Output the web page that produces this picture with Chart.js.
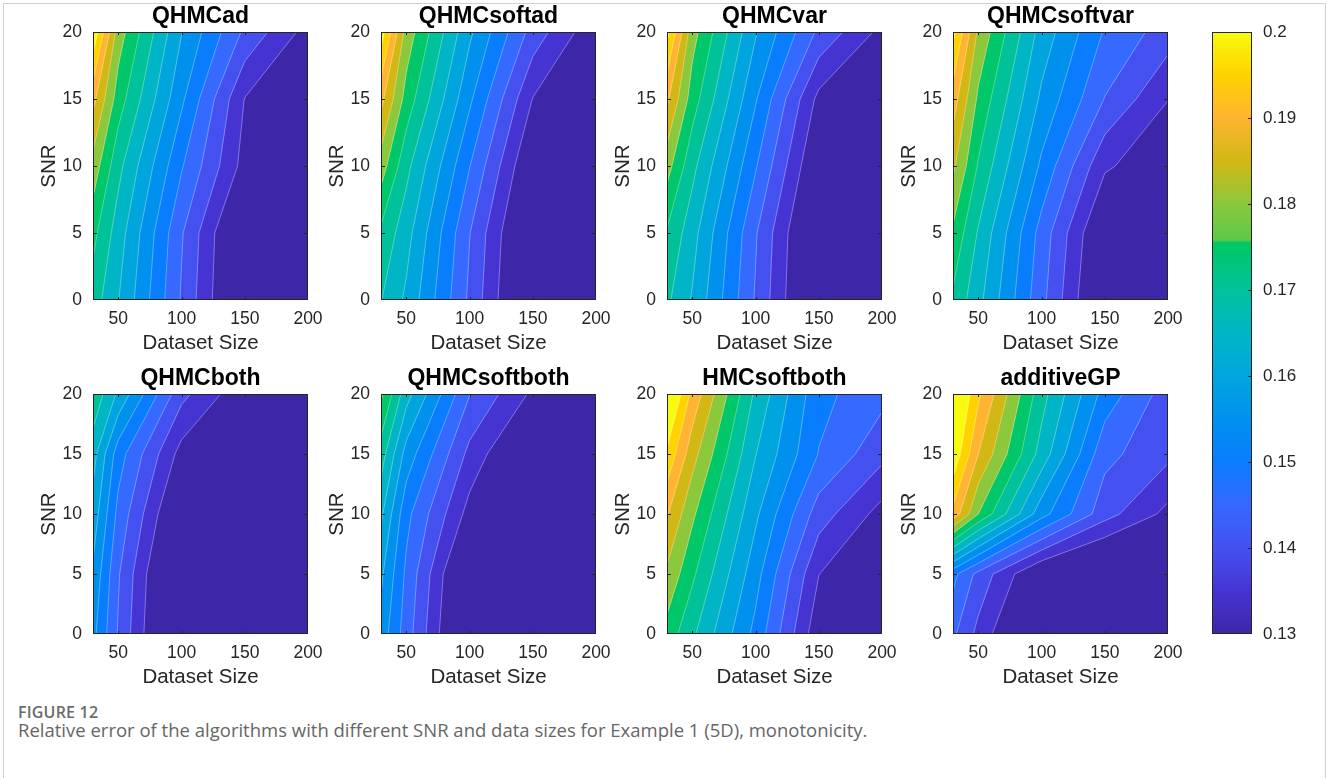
<!DOCTYPE html>
<html>
<head>
<meta charset="utf-8">
<script src="https://cdn.jsdelivr.net/npm/chart.js@4.4.0/dist/chart.umd.min.js"></script>
<style>
  body { margin:0; width:1329px; height:778px; overflow:hidden; position:relative; background:#fff; }
  .frame { position:absolute; left:3px; top:3px; width:1321px; height:800px; border:1px solid #cfcfcf; }
  canvas { position:absolute; }
  .figlab { position:absolute; left:18px; top:701px; font:600 16px 'Open Sans', sans-serif; color:#6b6b6b; letter-spacing:0.2px; }
  .caption { position:absolute; left:18px; top:717px; font:18.5px 'Open Sans', sans-serif; color:#666; white-space:nowrap; }
</style>
</head>
<body>
<div class="frame"></div>
<div id="wrap"></div>
<div class="figlab">FIGURE 12</div>
<div class="caption">Relative error of the algorithms with different SNR and data sizes for Example 1 (5D), monotonicity.</div>
<script>
// grid of the contour data
const sizes = [30, 50, 100, 150, 200];
const snrs = [0, 5, 10, 15, 20];
const levels = [0.135, 0.14, 0.145, 0.15, 0.155, 0.16, 0.165, 0.17, 0.175, 0.18, 0.185, 0.19, 0.195, 0.2];
const xTicks = [50, 100, 150, 200];
const yTicks = [0, 5, 10, 15, 20];
const cbTicks = [0.13, 0.14, 0.15, 0.16, 0.17, 0.18, 0.19, 0.2];
const titles = ['QHMCad', 'QHMCsoftad', 'QHMCvar', 'QHMCsoftvar', 'QHMCboth', 'QHMCsoftboth', 'HMCsoftboth', 'additiveGP'];

// relative error, one row per SNR (0..20), columns = dataset sizes
const errQHMCad = [
  [0.1725, 0.1652, 0.1445, 0.1250, 0.1225],
  [0.1765, 0.1675, 0.1455, 0.1255, 0.1230],
  [0.1830, 0.1715, 0.1505, 0.1330, 0.1275],
  [0.1915, 0.1775, 0.1560, 0.1348, 0.1310],
  [0.2040, 0.1825, 0.1602, 0.1440, 0.1330]];
const errQHMCsoftad = [
  [0.1702, 0.1640, 0.1440, 0.1240, 0.1225],
  [0.1740, 0.1670, 0.1452, 0.1250, 0.1230],
  [0.1825, 0.1715, 0.1502, 0.1290, 0.1260],
  [0.1915, 0.1780, 0.1560, 0.1348, 0.1310],
  [0.2025, 0.1830, 0.1610, 0.1430, 0.1310]];
const errQHMCvar = [
  [0.1710, 0.1645, 0.1445, 0.1245, 0.1225],
  [0.1745, 0.1670, 0.1455, 0.1250, 0.1230],
  [0.1820, 0.1715, 0.1505, 0.1290, 0.1260],
  [0.1910, 0.1775, 0.1555, 0.1335, 0.1305],
  [0.2015, 0.1820, 0.1605, 0.1440, 0.1335]];
const errQHMCsoftvar = [
  [0.1740, 0.1665, 0.1465, 0.1265, 0.1240],
  [0.1790, 0.1695, 0.1480, 0.1283, 0.1260],
  [0.1860, 0.1745, 0.1540, 0.1358, 0.1310],
  [0.1925, 0.1790, 0.1590, 0.1448, 0.1351],
  [0.2015, 0.1840, 0.1630, 0.1495, 0.1425]];
const errQHMCboth = [
  [0.1565, 0.1445, 0.1210, 0.1175, 0.1150],
  [0.1590, 0.1455, 0.1220, 0.1175, 0.1150],
  [0.1630, 0.1485, 0.1270, 0.1190, 0.1150],
  [0.1670, 0.1523, 0.1330, 0.1225, 0.1175],
  [0.1740, 0.1640, 0.1415, 0.1310, 0.1275]];
const errQHMCsoftboth = [
  [0.1580, 0.1475, 0.1235, 0.1175, 0.1150],
  [0.1610, 0.1490, 0.1250, 0.1175, 0.1150],
  [0.1660, 0.1515, 0.1330, 0.1225, 0.1150],
  [0.1725, 0.1580, 0.1385, 0.1260, 0.1175],
  [0.1810, 0.1670, 0.1452, 0.1340, 0.1285]];
const errHMCsoftboth = [
  [0.1780, 0.1710, 0.1535, 0.1313, 0.1250],
  [0.1840, 0.1760, 0.1570, 0.1351, 0.1285],
  [0.1905, 0.1810, 0.1610, 0.1425, 0.1330],
  [0.1990, 0.1870, 0.1652, 0.1498, 0.1415],
  [0.2080, 0.1935, 0.1690, 0.1515, 0.1465]];
const errAdditiveGP = [
  [0.1460, 0.1385, 0.1225, 0.1175, 0.1150],
  [0.1515, 0.1434, 0.1288, 0.1240, 0.1200],
  [0.1935, 0.1800, 0.1570, 0.1420, 0.1335],
  [0.2040, 0.1900, 0.1680, 0.1465, 0.1412],
  [0.2080, 0.1960, 0.1720, 0.1530, 0.1425]];

const grids = [errQHMCad, errQHMCsoftad, errQHMCvar, errQHMCsoftvar,
               errQHMCboth, errQHMCsoftboth, errHMCsoftboth, errAdditiveGP];

// colormap (as seen on the colorbar)
const cmapStops = [
  [0.130, '#3e26a8'], [0.135, '#4634d2'], [0.140, '#4450f0'], [0.145, '#3569ff'],
  [0.150, '#0a7dff'], [0.155, '#0091ee'], [0.160, '#00a5de'], [0.165, '#00b6c6'],
  [0.170, '#00c29a'], [0.1755, '#00c864'], [0.1758, '#5cc84a'], [0.180, '#8cc83c'],
  [0.185, '#d2b814'], [0.190, '#ffb432'], [0.195, '#ffd200'], [0.200, '#f9fb0e']];

function hexRgb(h){ return [1,3,5].map(i => parseInt(h.substr(i,2),16)); }
function cmap(v){
  if (v <= cmapStops[0][0]) return cmapStops[0][1];
  for (let i = 1; i < cmapStops.length; i++) {
    if (v <= cmapStops[i][0]) {
      const [v0, c0] = cmapStops[i-1], [v1, c1] = cmapStops[i];
      const t = (v - v0) / (v1 - v0), a = hexRgb(c0), b = hexRgb(c1);
      return 'rgb(' + a.map((x,k) => Math.round(x + t*(b[k]-x))).join(',') + ')';
    }
  }
  return cmapStops[cmapStops.length-1][1];
}

const FONT = "'Liberation Sans', Arial, Helvetica, sans-serif";
const AX = '#262626';
const GAP = {x: null, y: null};

// polygons of {err >= level} per grid cell, plus contour segments
function contourData(grid, level){
  const fillPts = [], linePts = [];
  for (let j = 0; j < snrs.length - 1; j++) {
    for (let i = 0; i < sizes.length - 1; i++) {
      const c = [[sizes[i], snrs[j], grid[j][i]], [sizes[i+1], snrs[j], grid[j][i+1]],
                 [sizes[i+1], snrs[j+1], grid[j+1][i+1]], [sizes[i], snrs[j+1], grid[j+1][i]]];
      const poly = [], cross = [];
      for (let k = 0; k < 4; k++) {
        const a = c[k], b = c[(k+1) % 4];
        const inA = a[2] >= level, inB = b[2] >= level;
        if (inA) poly.push({x: a[0], y: a[1]});
        if (inA !== inB) {
          const t = (level - a[2]) / (b[2] - a[2]);
          const p = {x: a[0] + t*(b[0]-a[0]), y: a[1] + t*(b[1]-a[1])};
          poly.push(p); cross.push(p);
        }
      }
      if (poly.length >= 3) fillPts.push(...poly, poly[0], GAP);
      for (let k = 0; k + 1 < cross.length; k += 2) linePts.push(cross[k], cross[k+1], GAP);
    }
  }
  return {fillPts, linePts};
}

// box + inward ticks, like the original axes
const frame = {
  id: 'frame',
  beforeDatasetsDraw(chart, args, opts){
    if (!opts.bg) return;
    const a = chart.chartArea, ctx = chart.ctx;
    ctx.save(); ctx.fillStyle = opts.bg; ctx.fillRect(a.left, a.top, a.width, a.height); ctx.restore();
  },
  afterDatasetsDraw(chart, args, opts){
    const a = chart.chartArea, ctx = chart.ctx, L = 3;
    ctx.save();
    ctx.strokeStyle = AX; ctx.lineWidth = 1;
    ctx.strokeRect(Math.round(a.left)+0.5, Math.round(a.top)+0.5, Math.round(a.width)-1, Math.round(a.height)-1);
    ctx.beginPath();
    const xs = chart.scales.x, ys = chart.scales.y;
    if (xs && xs.options.display !== false) {
      xTicks.forEach(v => {
        const p = Math.round(xs.getPixelForValue(v)) + 0.5;
        if (p <= a.left + 1 || p >= a.right - 1) return;
        ctx.moveTo(p, a.bottom); ctx.lineTo(p, a.bottom - L);
        ctx.moveTo(p, a.top); ctx.lineTo(p, a.top + L);
      });
    }
    (opts.yTicks || []).forEach(v => {
      const p = Math.round(ys.getPixelForValue(v)) + 0.5;
      if (p <= a.top + 1 || p >= a.bottom - 1) return;
      if (!opts.rightOnly) { ctx.moveTo(a.left, p); ctx.lineTo(a.left + L + 1, p); }
      ctx.moveTo(a.right, p); ctx.lineTo(a.right - L - 1, p);
    });
    ctx.stroke();
    ctx.restore();
  }
};

const wrap = document.getElementById('wrap');
function addCanvas(left, top, w, h){
  const c = document.createElement('canvas');
  c.width = w; c.height = h;
  c.style.left = left + 'px'; c.style.top = top + 'px';
  c.style.width = w + 'px'; c.style.height = h + 'px';
  wrap.appendChild(c);
  return c;
}

const colLeft = [93, 381, 667, 953];
const rowTop = [32, 394];
const rowH = [268, 240];
const PW = 215;

grids.forEach((grid, n) => {
  const r = Math.floor(n / 4);
  const L = colLeft[n % 4], T = rowTop[r], PH = rowH[r];
  const cv = addCanvas(L - 60, T - 40, PW + 80, PH + 100);
  const datasets = [];
  levels.forEach((lv, k) => {
    const {fillPts, linePts} = contourData(grid, lv);
    const col = cmap(lv);
    datasets.push({data: fillPts, fill: 'shape', backgroundColor: col, borderColor: col,
      borderWidth: 1, pointRadius: 0, tension: 0, spanGaps: false, clip: 0, order: 100 - k});
    datasets.push({data: linePts, fill: false, borderColor: 'rgba(255,255,255,0.45)',
      borderWidth: 0.7, pointRadius: 0, tension: 0, spanGaps: false, clip: 0, order: 0});
  });
  new Chart(cv, {
    type: 'line',
    data: {datasets},
    plugins: [frame],
    options: {
      responsive: false, animation: false, devicePixelRatio: 1, events: [],
      layout: {padding: {left: 0, right: 20, top: 0, bottom: 0}},
      plugins: {
        legend: {display: false}, tooltip: {enabled: false},
        title: {display: true, text: titles[n], fullSize: false, color: '#000',
          font: {family: FONT, size: 23, weight: 'bold', lineHeight: 1}, padding: {top: 13, bottom: 4}},
        frame: {bg: cmap(0.13), yTicks: yTicks}
      },
      scales: {
        x: {type: 'linear', min: 30, max: 200,
          afterBuildTicks: s => { s.ticks = xTicks.map(v => ({value: v})); },
          afterFit: s => { s.height = 60; },
          grid: {display: false}, border: {display: false},
          ticks: {padding: 1, color: AX, maxRotation: 0, autoSkip: false, font: {family: FONT, size: 17.5}},
          title: {display: true, text: 'Dataset Size', color: AX, font: {family: FONT, size: 20.5, lineHeight: 1.2}, padding: {top: 0, bottom: 4}}
        },
        y: {type: 'linear', min: 0, max: 20,
          afterBuildTicks: s => { s.ticks = yTicks.map(v => ({value: v})); },
          afterFit: s => { s.width = 60; },
          grid: {display: false}, border: {display: false},
          ticks: {padding: 3, color: AX, font: {family: FONT, size: 17.5}},
          title: {display: true, text: 'SNR', color: AX, font: {family: FONT, size: 20.5, lineHeight: 1.2}, padding: {top: 4, bottom: 0}}
        }
      }
    }
  });
});

// colorbar
const CBL = 1212, CBT = 32, CBW = 40, CBH = 602;
const cbCanvas = addCanvas(CBL - 10, CBT - 20, CBW + 70, CBH + 40);
new Chart(cbCanvas, {
  type: 'bar',
  data: {labels: [''], datasets: [{
    data: [[0.13, 0.2]], borderWidth: 0, barPercentage: 1, categoryPercentage: 1,
    backgroundColor: c => {
      const a = c.chart.chartArea;
      if (!a) return '#000';
      const g = c.chart.ctx.createLinearGradient(0, a.bottom, 0, a.top);
      cmapStops.forEach(([v, col]) => g.addColorStop((v - 0.13) / 0.07, col));
      return g;
    }
  }]},
  plugins: [frame],
  options: {
    responsive: false, animation: false, devicePixelRatio: 1, events: [],
    layout: {padding: {left: 10, right: 0, top: 20, bottom: 20}},
    plugins: {legend: {display: false}, tooltip: {enabled: false}, frame: {yTicks: cbTicks, rightOnly: true}},
    scales: {
      x: {display: false},
      y: {position: 'right', min: 0.13, max: 0.2,
        afterBuildTicks: s => { s.ticks = cbTicks.map(v => ({value: v})); },
        afterFit: s => { s.width = 60; },
        grid: {display: false}, border: {display: false},
        ticks: {padding: 3, color: AX, font: {family: FONT, size: 17}, callback: v => String(+(+v).toFixed(2))}
      }
    }
  }
});
</script>
</body>
</html>
